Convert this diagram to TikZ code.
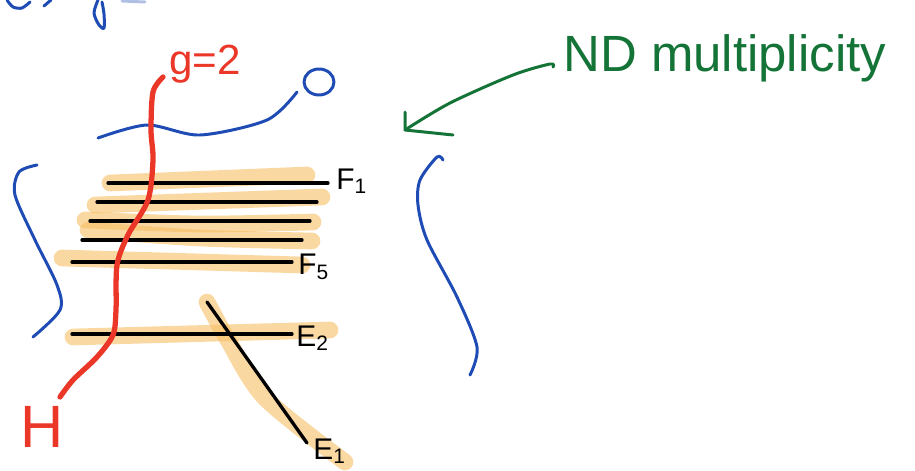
\documentclass[tikz,border=0pt]{standalone}
\usepackage{fontspec}
\setmainfont{Liberation Sans}
\begin{document}
\begin{tikzpicture}[x=0.02cm,y=-0.02cm,
  ink/.style={line width=1.7pt,line cap=round,line join=round},
  blueink/.style={ink,draw={rgb,255:red,30;green,75;blue,180}},
  redink/.style={line width=3pt,line cap=round,line join=round,draw={rgb,255:red,235;green,55;blue,40}},
  greenink/.style={ink,draw={rgb,255:red,20;green,115;blue,55}},
  band/.style={line width=9.5pt,line cap=round,draw={rgb,255:red,247;green,190;blue,100},draw opacity=0.6},
  stroke/.style={line width=1.9pt,line cap=round,draw=black},
  lab/.style={inner sep=0pt,font=\fontsize{17}{19}\selectfont},
]
\useasboundingbox (0,0) rectangle (915,470);

% fragments of a heading cut off at the top edge
\draw[blueink] plot[smooth] coordinates {(7,0) (13,7) (22,8) (30,2)};
\draw[blueink] (44,6) -- (51,0);
\draw[blueink] plot[smooth] coordinates {(98,0) (94,13) (99,25) (104,28) (104,14) (102,2)};
\draw[blueink,draw opacity=0.35] (122,1) -- (145,2);

% highlighted bands behind the lines
\draw[band] (110,183) -- (307,175);
\draw[band] (95,205) -- (322,197);
\draw[band] plot[smooth] coordinates {(85,220) (200,224) (313,222)};
\draw[band] plot[smooth] coordinates {(88,230) (200,238) (312,241)};
\draw[band] plot[smooth] coordinates {(62,258) (200,262) (302,265)};
\draw[band] (73,337) -- (330,330);
\draw[band] plot[smooth] coordinates {(207,302) (228,340) (265,398) (345,462)};

% fibres F and curves E
\coordinate (f1a) at (108,183); \coordinate (f1b) at (328,183);
\coordinate (f2a) at (97,202);  \coordinate (f2b) at (317,202);
\coordinate (f3a) at (90,221);  \coordinate (f3b) at (310,221);
\coordinate (f4a) at (82,240);  \coordinate (f4b) at (302,240);
\coordinate (f5a) at (72,262);  \coordinate (f5b) at (292,262);
\coordinate (e2a) at (72,334);  \coordinate (e2b) at (292,334);
\coordinate (e1a) at (207,302); \coordinate (e1b) at (307,443);
\draw[stroke] (f1a) -- (f1b);
\draw[stroke] (f2a) -- (f2b);
\draw[stroke] (f3a) -- (f3b);
\draw[stroke] (f4a) -- (f4b);
\draw[stroke] (f5a) -- (f5b);
\draw[stroke] (e2a) -- (e2b);
\draw[stroke] (e1a) -- (e1b);
\node[lab,anchor=west] (F1) at (336,181) {F\textsubscript{1}};
\node[lab,anchor=west] (F5) at (298,267) {F\textsubscript{5}};
\node[lab,anchor=west] (E2) at (296,338) {E\textsubscript{2}};
\node[lab,anchor=west] (E1) at (313,451) {E\textsubscript{1}};

% blue curves
\draw[blueink] plot[smooth] coordinates {(98,138) (147,125) (200,135) (267,120) (297,92)};
\draw[blueink] (319,82) ellipse[x radius=15,y radius=13];
\draw[blueink] plot[smooth] coordinates {(37,165) (19,172) (15,195) (35,240) (57,285) (60,310) (33,337)};
\draw[blueink] plot[smooth] coordinates {(443,160) (437,157) (420,180) (418,205) (427,240) (457,297) (477,347) (470,375)};

% red curve of genus two
\draw[redink] plot[smooth] coordinates {(163,77) (153,92) (151,130) (153,160) (148,200) (128,235) (117,265) (116,310) (113,335) (97,357) (73,380) (60,397)};
\node[inner sep=0pt,text={rgb,255:red,235;green,55;blue,40},font=\fontsize{24}{26}\selectfont] (g) at (205,64) {g=2};
\node[inner sep=0pt,text={rgb,255:red,235;green,55;blue,40},font=\fontsize{34}{36}\selectfont] (H) at (42,427) {H};

% green note with arrow
\node[inner sep=0pt,anchor=west,text={rgb,255:red,20;green,115;blue,55},font=\fontsize{29}{31}\selectfont] (nd) at (563,58) {ND multiplicity};
\coordinate (tip) at (405,130);
\draw[greenink] plot[smooth] coordinates {(553,67) (550,64) (513,75) (450,103) (tip)};
\draw[greenink] (405,112) -- (tip) -- (453,135);
\end{tikzpicture}
\end{document}
